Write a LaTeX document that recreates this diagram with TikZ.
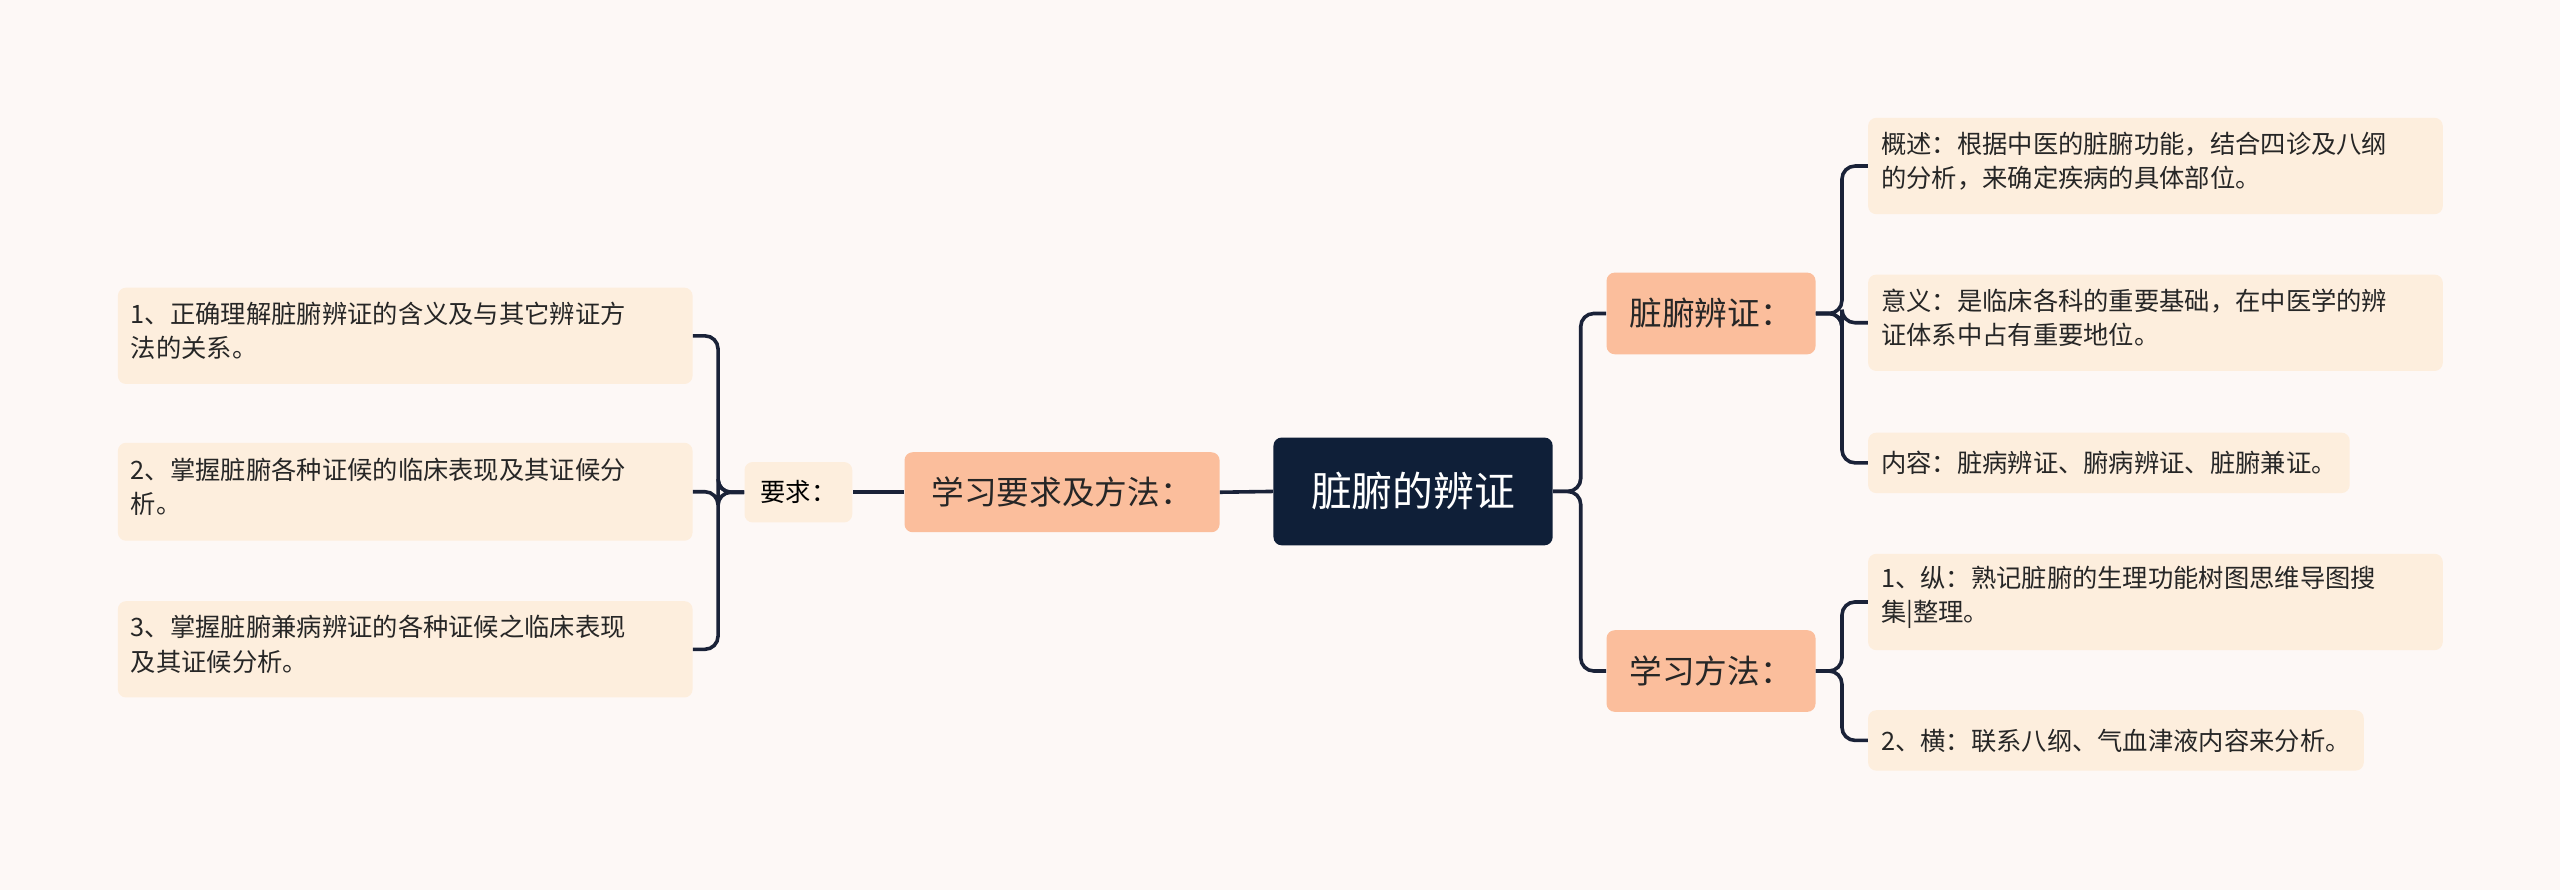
\documentclass[tikz,border=0pt]{standalone}
\usepackage{fontspec}
\setmainfont{Noto Sans CJK SC}
\usetikzlibrary{calc}
\definecolor{bg}{HTML}{FDF8F6}
\definecolor{navy}{HTML}{0F1F38}
\definecolor{salmon}{HTML}{FBBE9C}
\definecolor{leaf}{HTML}{FDEEDD}
\definecolor{ln}{HTML}{1A2238}
\begin{document}
\begin{tikzpicture}[x=1pt,y=-1pt,
 leafbox/.style={fill=leaf,rounded corners=5,inner xsep=8,inner ysep=0,anchor=north west,align=left,font=\fontsize{15.5}{21}\selectfont,text=black!85},
 midbox/.style={fill=salmon,rounded corners=5,inner sep=0,font=\fontsize{20}{24}\selectfont,text=black!85},
 edge/.style={draw=ln,line width=2.2,rounded corners=8}]
\fill[bg] (0,0) rectangle (1568,545);
\useasboundingbox (0,0) rectangle (1568,545);
\node[fill=navy,rounded corners=5,minimum width=171,minimum height=66,inner sep=0,text=white,font=\fontsize{25}{30}\selectfont] (c) at (865.5,301) {脏腑的辨证};
\node[midbox,minimum width=193,minimum height=49] (m) at (650.5,301.5) {学习要求及方法：};
\node[fill=leaf,rounded corners=5,minimum width=66,minimum height=37,inner sep=0,font=\fontsize{15.5}{20}\selectfont] (q) at (489,301.5) {要求：};
\node[leafbox,text width=336,minimum height=59] (l1) at (72,176) {\\[-14pt]1、正确理解脏腑辨证的含义及与其它辨证方\\法的关系。};
\node[leafbox,text width=336,minimum height=60] (l2) at (72,271) {\\[-14pt]2、掌握脏腑各种证候的临床表现及其证候分\\析。};
\node[leafbox,text width=336,minimum height=59] (l3) at (72,368) {\\[-14pt]3、掌握脏腑兼病辨证的各种证候之临床表现\\及其证候分析。};
\node[midbox,minimum width=128,minimum height=50] (a) at (1048,192) {脏腑辨证：};
\node[midbox,minimum width=128,minimum height=50] (b) at (1048,411) {学习方法：};
\node[leafbox,text width=336,minimum height=59] (r1) at (1144,72) {\\[-14pt]概述：根据中医的脏腑功能，结合四诊及八纲\\的分析，来确定疾病的具体部位。};
\node[leafbox,text width=336,minimum height=59] (r2) at (1144,168) {\\[-14pt]意义：是临床各科的重要基础，在中医学的辨\\证体系中占有重要地位。};
\node[leafbox,minimum height=37,anchor=west] (r3) at (1144,283.5) {内容：脏病辨证、腑病辨证、脏腑兼证。};
\node[leafbox,text width=336,minimum height=59] (r4) at (1144,339) {\\[-14pt]1、纵：熟记脏腑的生理功能树图思维导图搜\\集|整理。};
\node[leafbox,minimum height=37,anchor=west] (r5) at (1144,453.5) {2、横：联系八纲、气血津液内容来分析。};
\draw[edge] (c.west) -- (m.east);
\draw[edge] (m.west) -- (q.east);
\foreach \t in {l1,l2,l3} \draw[edge] (q.west) -- ++(-16,0) |- (\t.east);
\foreach \t in {a,b} \draw[edge] (c.east) -- ++(17,0) |- (\t.west);
\foreach \t in {r1,r2,r3} \draw[edge] (a.east) -- ++(16,0) |- (\t.west);
\foreach \t in {r4,r5} \draw[edge] (b.east) -- ++(16,0) |- (\t.west);
\end{tikzpicture}
\end{document}
